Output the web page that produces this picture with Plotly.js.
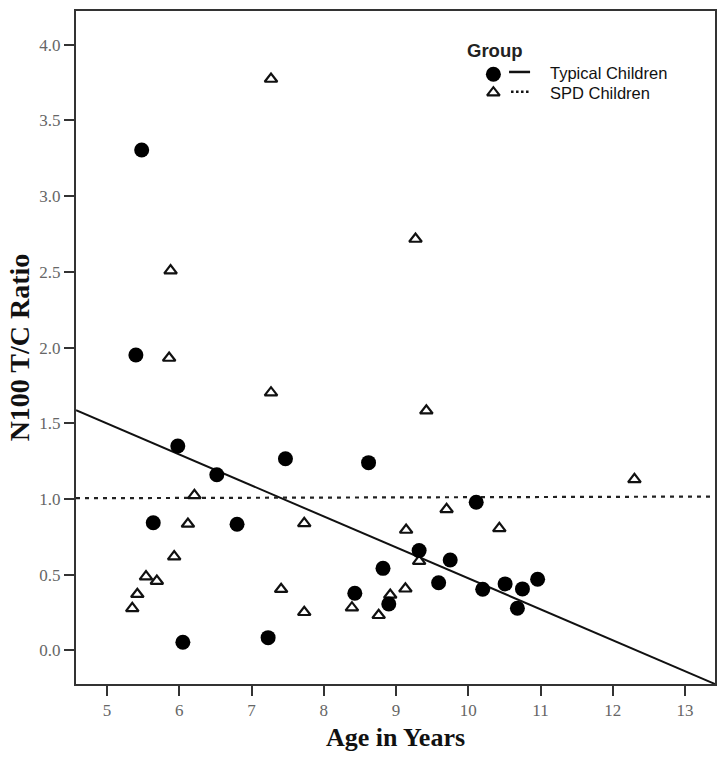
<!DOCTYPE html>
<html>
<head>
<meta charset="utf-8">
<script src="https://cdn.plot.ly/plotly-3.0.1.min.js"></script>
<style>
  html, body { margin: 0; padding: 0; background: #fff; }
  #chart { width: 726px; height: 761px; }
</style>
</head>
<body>
<div id="chart"></div>
<script>
// ---- Data ----
const typicalAge   = [5.48, 5.40, 5.98, 6.52, 5.64, 6.80, 7.47, 6.05, 7.23, 8.62, 8.43,
                      8.82, 8.90, 9.32, 9.59, 9.75, 10.11, 10.20, 10.51, 10.68, 10.75, 10.96];
const typicalRatio = [3.305, 1.951, 1.350, 1.160, 0.843, 0.833, 1.266, 0.054, 0.084, 1.240, 0.377,
                      0.542, 0.306, 0.659, 0.447, 0.597, 0.978, 0.404, 0.439, 0.278, 0.406, 0.470];

const spdAge   = [7.27, 5.88, 5.86, 9.27, 7.27, 9.42, 6.21, 6.12, 7.73, 9.14, 5.93, 5.54, 5.69,
                  5.42, 5.35, 7.41, 8.92, 9.13, 7.73, 8.39, 8.76, 12.30, 9.70, 10.43, 9.32];
const spdRatio = [3.774, 2.508, 1.931, 2.717, 1.702, 1.583, 1.024, 0.835, 0.839, 0.795, 0.619, 0.487, 0.458,
                  0.371, 0.278, 0.404, 0.366, 0.407, 0.252, 0.282, 0.232, 1.130, 0.932, 0.806, 0.590];

// Fit lines (end points)
const typicalFitAge   = [4.571, 13.415];
const typicalFitRatio = [1.586, -0.222];
const spdFitAge   = [4.571, 13.415];
const spdFitRatio = [1.005, 1.016];

const xTickVals = [5, 6, 7, 8, 9, 10, 11, 12, 13];
const yTickVals = [0, 0.5, 1, 1.5, 2, 2.5, 3, 3.5, 4];

const groupNames = ['Typical Children', 'SPD Children'];
const legendTitle = 'Group';

// ---- Traces ----
const traces = [
  {
    x: typicalFitAge, y: typicalFitRatio, type: 'scatter', mode: 'lines',
    line: { color: '#111', width: 2 }, hoverinfo: 'skip', showlegend: false
  },
  {
    x: spdFitAge, y: spdFitRatio, type: 'scatter', mode: 'lines',
    line: { color: '#222', width: 2.2, dash: '4px,5px' }, hoverinfo: 'skip', showlegend: false
  },
  {
    x: spdAge, y: spdRatio, type: 'scatter', mode: 'markers', name: groupNames[1],
    marker: { symbol: 'triangle-up', size: 11, color: '#fff', line: { color: '#111', width: 2.2 } },
    showlegend: false
  },
  {
    x: typicalAge, y: typicalRatio, type: 'scatter', mode: 'markers', name: groupNames[0],
    marker: { symbol: 'circle', size: 15, color: '#000', line: { width: 0 } },
    showlegend: false
  },
  // legend symbols on an overlay axis (0..1 over the plot area)
  {
    x: [0.6532], y: [0.9060], xaxis: 'x2', yaxis: 'y2', type: 'scatter', mode: 'markers',
    marker: { symbol: 'circle', size: 15, color: '#000' }, hoverinfo: 'skip', showlegend: false
  },
  {
    x: [0.6532], y: [0.8786], xaxis: 'x2', yaxis: 'y2', type: 'scatter', mode: 'markers',
    marker: { symbol: 'triangle-up', size: 11, color: '#fff', line: { color: '#111', width: 2.2 } },
    hoverinfo: 'skip', showlegend: false
  },
  {
    x: [0.6777, 0.7106], y: [0.9094, 0.9094], xaxis: 'x2', yaxis: 'y2', type: 'scatter', mode: 'lines',
    line: { color: '#111', width: 2.5 }, hoverinfo: 'skip', showlegend: false
  },
  {
    x: [0.6808, 0.7090], y: [0.8801, 0.8801], xaxis: 'x2', yaxis: 'y2', type: 'scatter', mode: 'lines',
    line: { color: '#111', width: 2.5, dash: '2.5px,2.5px' }, hoverinfo: 'skip', showlegend: false
  }
];

const tickFont = { family: 'Liberation Serif, Times New Roman, serif', size: 17, color: '#666' };
const serif = 'Liberation Serif, Times New Roman, serif';

const layout = {
  width: 726, height: 761,
  margin: { l: 76, r: 11, t: 11, b: 77 },
  paper_bgcolor: '#fff', plot_bgcolor: '#fff',
  showlegend: false,
  xaxis: {
    range: [4.571, 13.415], tickvals: xTickVals, ticktext: xTickVals.map(String),
    ticks: 'outside', ticklen: 10, tickwidth: 2, tickcolor: '#333',
    showline: true, linecolor: '#333', linewidth: 2, mirror: true,
    showgrid: false, zeroline: false, tickfont: tickFont,
    title: { text: '<b>Age in Years</b>', font: { family: serif, size: 26, color: '#111' }, standoff: 8 }
  },
  yaxis: {
    range: [-0.222, 4.223], tickvals: yTickVals, ticktext: yTickVals.map(v => v.toFixed(1)),
    ticks: 'outside', ticklen: 10, tickwidth: 2, tickcolor: '#333',
    showline: true, linecolor: '#333', linewidth: 2, mirror: true,
    showgrid: false, zeroline: false, tickfont: tickFont,
    title: { text: '<b>N100 T/C Ratio</b>', font: { family: serif, size: 28, color: '#111' }, standoff: 2 }
  },
  xaxis2: { overlaying: 'x', range: [0, 1], visible: false, fixedrange: true },
  yaxis2: { overlaying: 'y', range: [0, 1], visible: false, fixedrange: true },
  annotations: [
    { xref: 'paper', yref: 'paper', x: 0.6090, y: 0.9406, xanchor: 'left', yanchor: 'middle',
      text: '<b>' + legendTitle + '</b>', showarrow: false,
      font: { family: 'Liberation Sans, Arial, sans-serif', size: 18.5, color: '#222' } },
    { xref: 'paper', yref: 'paper', x: 0.7390, y: 0.9079, xanchor: 'left', yanchor: 'middle',
      text: groupNames[0], showarrow: false,
      font: { family: 'Liberation Sans, Arial, sans-serif', size: 16.5, color: '#111' } },
    { xref: 'paper', yref: 'paper', x: 0.7390, y: 0.8782, xanchor: 'left', yanchor: 'middle',
      text: groupNames[1], showarrow: false,
      font: { family: 'Liberation Sans, Arial, sans-serif', size: 16.5, color: '#111' } }
  ]
};

Plotly.newPlot('chart', traces, layout, { displayModeBar: false, staticPlot: true });
</script>
</body>
</html>
